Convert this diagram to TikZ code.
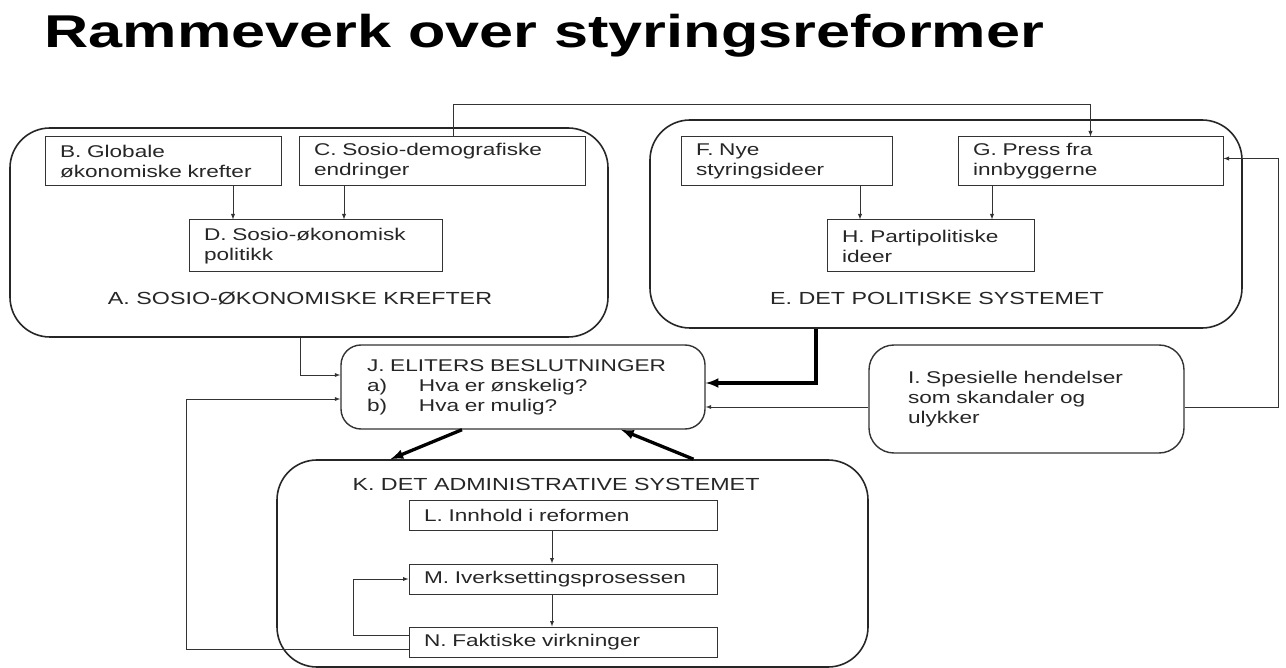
\documentclass[tikz,border=0pt]{standalone}
\usepackage{fontspec}
\setmainfont{Liberation Sans}[FakeStretch=1.33]
\usetikzlibrary{
  positioning,
  arrows
}

\begin{document}
\begin{tikzpicture}[x=1pt, y=-1pt, >=latex,
    boks/.style={draw=black!80, line width=1pt, align=left, inner xsep=15pt, inner ysep=0pt,
      text=black!85, font=\fontsize{17}{20}\selectfont},
    rund/.style={boks, rounded corners=20pt, line width=1.4pt},
    ramme/.style={draw=black!85, line width=1.6pt, rounded corners=40pt},
    overskrift/.style={text=black!85, font=\fontsize{17.5}{20}\selectfont},
    pil/.style={->, draw=black!80, line width=0.9pt},
    tykkpil/.style={->, line width=3.3pt}]

    \useasboundingbox (0,0) rectangle (1286,668);

    \node[anchor=base west,font=\fontsize{46}{50}\selectfont\bfseries] (tittel) at (41,48) {Rammeverk over styringsreformer};

    % the three big frames
    \node[ramme,minimum width=598pt,minimum height=209pt] (A) at (309,232.5) {};
    \node[ramme,minimum width=592pt,minimum height=208pt] (E) at (946,224) {};
    \node[ramme,minimum width=591pt,minimum height=207pt] (K) at (572.5,563.5) {};
    \node[overskrift] (Atekst) at (300,298) {A. SOSIO-ØKONOMISKE KREFTER};
    \node[overskrift] (Etekst) at (937,298) {E. DET POLITISKE SYSTEMET};
    \node[overskrift] (Ktekst) at (556,484) {K. DET ADMINISTRATIVE SYSTEMET};

    \node[boks,text width=206pt,minimum height=49pt] (B) at (163,161.5) {B. Globale\\økonomiske krefter};
    \node[boks,text width=256pt,minimum height=49pt,right = 17pt of B] (C) {C. Sosio-demografiske\\endringer};
    \node[boks,text width=223pt,minimum height=52pt] (D) at (315.5,246) {D. Sosio-økonomisk\\politikk};
    \node[boks,text width=181pt,minimum height=49pt] (F) at (786.5,161.5) {F. Nye\\styringsideer};
    \node[boks,text width=235pt,minimum height=49pt,right = 65pt of F] (G) {G. Press fra\\innbyggerne};
    \node[boks,text width=177pt,minimum height=52pt] (H) at (930.5,246) {H. Partipolitiske\\ideer};
    \node[rund,inner xsep=26pt,text width=312pt,minimum height=84pt] (J) at (523,387)
      {J. ELITERS BESLUTNINGER\\\makebox[52pt][l]{a)}Hva er ønskelig?\\\makebox[52pt][l]{b)}Hva er mulig?};
    \node[rund,inner xsep=39pt,text width=237pt,minimum height=108pt,rounded corners=25pt] (I) at (1026.5,399)
      {I. Spesielle hendelser\\som skandaler og\\ulykker};
    \node[boks,text width=278pt,minimum height=30pt] (L) at (563,515) {L. Innhold i reformen};
    \node[boks,text width=278pt,minimum height=30pt,below = 33pt of L] (M) {M. Iverksettingsprosessen};
    \node[boks,text width=278pt,minimum height=30pt,below = 32pt of M] (N) {N. Faktiske virkninger};

    \draw[pil] ([xshift=70pt]B.south) -- ([xshift=70pt]B.south |- D.north);
    \draw[pil] ([xshift=-98pt]C.south) -- ([xshift=-98pt]C.south |- D.north);
    \draw[pil] ([xshift=73.5pt]F.south) -- ([xshift=73.5pt]F.south |- H.north);
    \draw[pil] ([xshift=-98.5pt]G.south) -- ([xshift=-98.5pt]G.south |- H.north);
    \draw[pil] ([xshift=11pt]C.north) |- ([yshift=32pt]G.north) -- (G.north);
    \draw[pil] ([yshift=-8pt]I.east) -| ([xshift=55pt,yshift=3pt]G.east) -- ([yshift=3pt]G.east);
    \draw[pil] ([yshift=-8pt]I.west) -- ([yshift=-8pt]I.west -| J.east);
    \draw[pil] ([xshift=-9pt]A.south) |- ([yshift=12pt]J.west);
    \draw[tykkpil] ([xshift=-130pt]E.south) |- ([yshift=4pt]J.east);
    \draw[tykkpil] ([xshift=-61pt]J.south) -- ([xshift=-182pt]K.north);
    \draw[tykkpil] ([xshift=121pt]K.north) -- ([xshift=98pt]J.south);
    \draw[pil] ([xshift=-11pt]L.south) -- ([xshift=-11pt]L.south |- M.north);
    \draw[pil] ([xshift=-11pt]M.south) -- ([xshift=-11pt]M.south |- N.north);
    \draw[pil] ([yshift=7pt]N.west) -| ([xshift=-55pt]M.west) -- (M.west);
    \draw[pil] ([yshift=-7pt]N.west) -| ([xshift=-154pt,yshift=-12pt]J.west) -- ([yshift=-12pt]J.west);
\end{tikzpicture}
\end{document}
